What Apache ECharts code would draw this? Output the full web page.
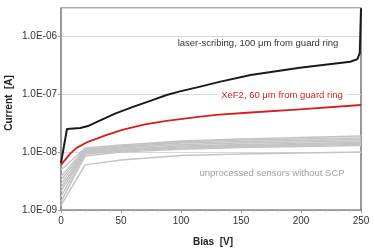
<!DOCTYPE html>
<html><head><meta charset="utf-8">
<script src="https://cdn.jsdelivr.net/npm/echarts@6/dist/echarts.min.js"></script>
<style>html,body{margin:0;padding:0;background:#fff}#c{width:374px;height:251px}</style>
</head><body><div id="c"></div>
<script>
// Bias [V] and current [A]
const blackV = [0, 5, 16, 22.5, 30, 45, 60, 75, 88, 100, 116, 132, 158, 199, 241, 247, 249, 250];
const blackI = [6.5e-9, 2.5e-8, 2.6e-8, 2.8e-8, 3.3e-8, 4.6e-8, 6.0e-8, 7.7e-8, 9.6e-8, 1.12e-7, 1.34e-7, 1.62e-7, 2.13e-7, 2.84e-7, 3.6e-7, 4.0e-7, 5.1e-7, 3.0e-6];
const redV = [0, 7.5, 13, 22.5, 37, 51, 70, 88, 116, 132, 158, 199, 250];
const redI = [6.0e-9, 9.3e-9, 1.18e-8, 1.5e-8, 1.94e-8, 2.4e-8, 3.0e-8, 3.45e-8, 4.07e-8, 4.4e-8, 4.8e-8, 5.45e-8, 6.46e-8];
const grayV = [0, 20, 50, 100, 150, 200, 250];
const gray1 = [4.9e-9, 1.17e-8, 1.32e-8, 1.55e-8, 1.68e-8, 1.78e-8, 1.89e-8];
const gray2 = [3.8e-9, 1.12e-8, 1.27e-8, 1.49e-8, 1.61e-8, 1.68e-8, 1.75e-8];
const gray3 = [3.3e-9, 1.08e-8, 1.22e-8, 1.43e-8, 1.52e-8, 1.58e-8, 1.65e-8];
const gray4 = [2.8e-9, 1.04e-8, 1.17e-8, 1.35e-8, 1.43e-8, 1.49e-8, 1.55e-8];
const gray5 = [2.4e-9, 1.0e-8, 1.12e-8, 1.27e-8, 1.35e-8, 1.40e-8, 1.46e-8];
const gray6 = [2.1e-9, 9.6e-9, 1.08e-8, 1.22e-8, 1.30e-8, 1.35e-8, 1.40e-8];
const gray7 = [1.7e-9, 9.2e-9, 1.04e-8, 1.17e-8, 1.25e-8, 1.30e-8, 1.35e-8];
const gray8 = [1.4e-9, 8.5e-9, 1.0e-8, 1.12e-8, 1.20e-8, 1.25e-8, 1.30e-8];
const gray9 = [1.2e-9, 6.0e-9, 7.3e-9, 8.7e-9, 9.2e-9, 9.6e-9, 1.0e-8];
const grays = [gray1, gray2, gray3, gray4, gray5, gray6, gray7, gray8, gray9];
const xTicks = [0, 50, 100, 150, 200, 250];
const yTickLabels = ['1.0E-09', '1.0E-08', '1.0E-07', '1.0E-06'];
const yMinExp = -9, yMaxExp = Math.log10(3.04e-6);

const toPts = (vs, is) => vs.map((v, k) => [v, Math.log10(is[k])]);
const font = 'Liberation Sans, Arial, sans-serif';

const series = [];
grays.forEach(g => series.push({type: 'line', data: toPts(grayV, g), symbol: 'none',
  lineStyle: {color: '#c4c4c4', width: 1.5}, silent: true, z: 2}));
series.push({type: 'line', data: toPts(redV, redI), symbol: 'none',
  lineStyle: {color: '#d41f1f', width: 1.8, join: 'round'}, z: 3});
series.push({type: 'line', data: toPts(blackV, blackI), symbol: 'none',
  lineStyle: {color: '#1a1a1a', width: 2, join: 'round'}, z: 4});

const chart = echarts.init(document.getElementById('c'), null, {renderer: 'canvas'});
chart.setOption({
  animation: false,
  grid: {left: 61, right: 13, top: 8, bottom: 41, show: true, borderColor: '#555', borderWidth: 1.2},
  xAxis: {type: 'value', min: xTicks[0], max: xTicks[xTicks.length - 1], interval: 50,
    axisLine: {lineStyle: {color: '#999', width: 1}},
    axisTick: {show: true, length: 3, lineStyle: {color: '#999'}},
    minorTick: {show: true, splitNumber: 5, length: 2, lineStyle: {color: '#bbb'}},
    splitLine: {show: false},
    axisLabel: {color: '#333', fontSize: 10, fontFamily: font, margin: 6}},
  yAxis: {type: 'value', min: yMinExp, max: yMaxExp, interval: 1,
    axisLine: {show: true, lineStyle: {color: '#999', width: 1}},
    axisTick: {show: true, length: 3, lineStyle: {color: '#999'}},
    splitLine: {show: true, lineStyle: {color: '#d9d9d9', width: 1}},
    axisLabel: {color: '#333', fontSize: 10, fontFamily: font, margin: 4, showMaxLabel: false,
      formatter: v => { const k = Math.round(v - yMinExp); return (Math.abs(v - Math.round(v)) < 1e-6 && k < yTickLabels.length) ? yTickLabels[k] : ''; }}},
  graphic: [
    {type: 'text', x: 213, y: 242, style: {text: 'Bias  [V]', font: 'bold 10px ' + font, fill: '#222', align: 'center', verticalAlign: 'middle'}},
    {type: 'text', x: 9, y: 103, rotation: Math.PI / 2, style: {text: 'Current  [A]', font: 'bold 10px ' + font, fill: '#222', align: 'center', verticalAlign: 'middle'}},
    {type: 'text', x: 258, y: 43, z: 10, style: {text: 'laser-scribing, 100 μm from guard ring', font: '9.5px ' + font, fill: '#333', align: 'center', verticalAlign: 'middle', backgroundColor: '#fff', padding: [1, 3]}},
    {type: 'text', x: 282, y: 95, z: 10, style: {text: 'XeF2, 60 μm from guard ring', font: '9.5px ' + font, fill: '#d41f1f', align: 'center', verticalAlign: 'middle', backgroundColor: '#fff', padding: [1, 3]}},
    {type: 'text', x: 272, y: 173, z: 10, style: {text: 'unprocessed sensors without SCP', font: '9.5px ' + font, fill: '#a0a0a0', align: 'center', verticalAlign: 'middle'}}
  ],
  series: series
});
</script></body></html>
